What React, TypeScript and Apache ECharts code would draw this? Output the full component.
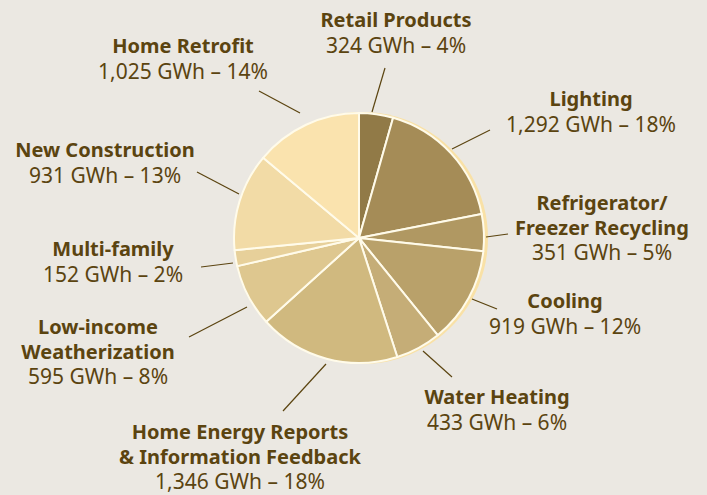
import React, { useEffect, useRef } from "react";
import * as echarts from "echarts";

const names = [
  "Retail Products",
  "Lighting",
  "Refrigerator/\nFreezer Recycling",
  "Cooling",
  "Water Heating",
  "Home Energy Reports\n& Information Feedback",
  "Low-income\nWeatherization",
  "Multi-family",
  "New Construction",
  "Home Retrofit",
];
const gwh = [324, 1292, 351, 919, 433, 1346, 595, 152, 931, 1025];
const colors = [
  "#917a47",
  "#a58c57",
  "#b09862",
  "#b9a16a",
  "#c5ad77",
  "#d0b97f",
  "#dec78f",
  "#e7d09a",
  "#f2dba6",
  "#fae3ae",
];

// label layout (block centre) and leader line endpoints
const labelPos = [
  [396, 32],
  [591, 111],
  [602, 227],
  [565, 313],
  [497, 409],
  [240, 456],
  [98, 351],
  [113, 261],
  [105, 162],
  [183, 58],
];
const linePts = [
  [[372, 112], [385, 68]],
  [[452, 149], [490, 130]],
  [[486, 237], [508, 234]],
  [[472, 299], [497, 309]],
  [[423, 351], [452, 377]],
  [[326, 364], [283, 411]],
  [[247, 307], [189, 337]],
  [[233, 263], [201, 267]],
  [[239, 194], [197, 172]],
  [[300, 113], [259, 91]],
];

const TEXT = "#5b4410";
const total = gwh.reduce((a, b) => a + b, 0);

export default function App() {
  const ref = useRef<HTMLDivElement>(null);
  useEffect(() => {
    if (!ref.current) return;
    const chart = echarts.init(ref.current, null, { renderer: "svg" });
    chart.setOption({
      animation: false,
      backgroundColor: "#ebe8e2",
      series: [
        {
          type: "pie",
          silent: true,
          center: [362, 238],
          radius: 126,
          z: 1,
          label: { show: false },
          labelLine: { show: false },
          itemStyle: { color: "#f9e1a6" },
          data: [{ value: 1, name: "rim" }],
        },
        {
          type: "pie",
          center: [359, 238],
          radius: 125,
          startAngle: 90,
          clockwise: true,
          z: 2,
          itemStyle: { borderColor: "#fffbea", borderWidth: 2 },
          data: names.map((n, i) => ({
            name: n,
            value: gwh[i],
            itemStyle: { color: colors[i] },
          })),
          label: {
            show: true,
            color: TEXT,
            fontFamily: "Noto Sans",
            overflow: "none",
            width: 300,
            formatter: (p: any) => {
              const head = String(p.name)
                .split("\n")
                .map((l) => `{b|${l}}`)
                .join("\n");
              const pct = Math.round((p.value / total) * 100);
              return `${head}\n{v|${p.value.toLocaleString("en-US")} GWh – ${pct}%}`;
            },
            rich: {
              b: {
                fontFamily: "Noto Sans",
                fontWeight: "bold",
                fontSize: 20,
                lineHeight: 25,
                color: TEXT,
                align: "center",
              },
              v: {
                fontFamily: "Noto Sans",
                fontSize: 21,
                lineHeight: 25,
                color: TEXT,
                align: "center",
              },
            },
          },
          labelLine: {
            show: true,
            lineStyle: { color: TEXT, width: 1.2 },
          },
          labelLayout: (params: any) => {
            const i = params.dataIndex;
            const [a, b] = linePts[i];
            return {
              x: labelPos[i][0],
              y: labelPos[i][1],
              align: "center",
              verticalAlign: "middle",
              labelLinePoints: [a, b, b],
            };
          },
        },
      ],
    });
    return () => chart.dispose();
  }, []);
  return (
    <div
      ref={ref}
      style={{ position: "fixed", left: 0, top: 0, width: 707, height: 495 }}
    />
  );
}
